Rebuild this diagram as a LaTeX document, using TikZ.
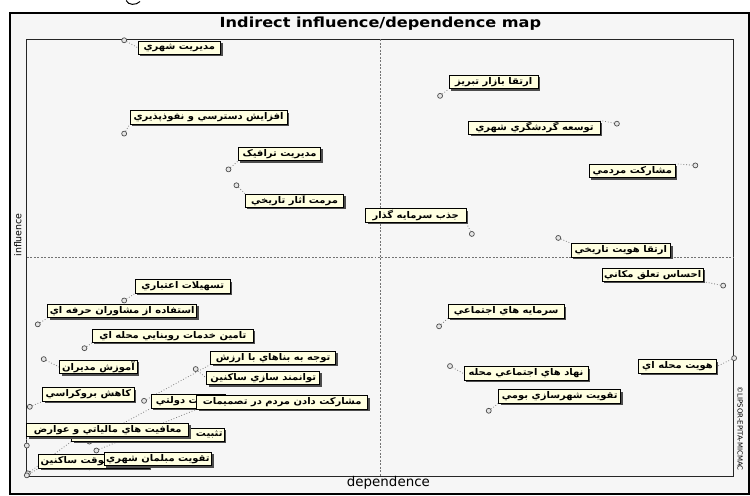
\documentclass[tikz,border=0pt]{standalone}
\usepackage{fontspec}
\usetikzlibrary{shadows}
\newfontfamily\fa[Script=Arabic, FakeStretch=1.08]{DejaVu Sans}
\newfontfamily\dvs{DejaVu Sans}
\TeXXeTstate=1
\newcommand{\rtl}[1]{\beginR #1\endR}
\definecolor{labfill}{HTML}{FFFFE1}
\definecolor{bgc}{HTML}{F6F6F6}
\pgfdeclarelayer{bottom}
\pgfdeclarelayer{background}
\pgfsetlayers{bottom,background,main}
\begin{document}
\begin{tikzpicture}[x=1pt,y=-1pt,
 lab/.style={draw=black, line width=0.8pt, fill=labfill, inner xsep=1pt, inner ysep=0pt,
   minimum height=13.5pt, font=\fa\bfseries\fontsize{9.3}{10}\selectfont,
   drop shadow={shadow xshift=2pt, shadow yshift=-2pt, fill=black!70, opacity=1}},
 mk/.style={circle, draw=black!70, fill=black!10, line width=0.7pt, inner sep=0pt, minimum size=5pt},
 lead/.style={draw=black!50, dotted, line width=0.8pt}]
\begin{pgfonlayer}{bottom}
\fill[white] (0,0) rectangle (750,492);
\draw[line width=2pt, fill=bgc] (10,13) rectangle (754,497);
\draw[line width=1pt, black!85] (27,39) rectangle (738,479);
\draw[black!55, line width=0.5pt, dash pattern=on 2pt off 1.5pt] (383,39) -- (383,479);
\draw[black!55, line width=0.5pt, dash pattern=on 2pt off 1.5pt] (27,258) -- (738,258);
\draw[line width=1pt] (127,0) .. controls (129,5) and (137,5) .. (141,1);
\end{pgfonlayer}
\node[font=\dvs\bfseries\fontsize{14}{14}\selectfont] (title) at (383,23) {\scalebox{1.16}[1]{Indirect influence/dependence map}};
\node[rotate=90, font=\dvs\fontsize{9.5}{10}\selectfont] (yl) at (18,236) {influence};
\node[font=\dvs\fontsize{13.5}{14}\selectfont] (xl) at (391,486) {dependence};
\node[rotate=-90, font=\dvs\fontsize{7}{7}\selectfont] (cp) at (745,431) {©LIPSOR-EPITA-MICMAC};
% markers
\node[mk] (m1) at (125,40) {};
\node[mk] (m2) at (125,134) {};
\node[mk] (m3) at (230,170) {};
\node[mk] (m4) at (238,186) {};
\node[mk] (m5) at (475,235) {};
\node[mk] (m6) at (443,96) {};
\node[mk] (m7) at (621,124) {};
\node[mk] (m8) at (700,166) {};
\node[mk] (m9) at (562,239) {};
\node[mk] (m10) at (728,287) {};
\node[mk] (m11) at (442,328) {};
\node[mk] (m12) at (739,360) {};
\node[mk] (m13) at (453,368) {};
\node[mk] (m14) at (492,413) {};
\node[mk] (m15) at (125,302) {};
\node[mk] (m16) at (38,326) {};
\node[mk] (m17) at (85,350) {};
\node[mk] (m18) at (44,361) {};
\node[mk] (m19) at (145,403) {};
\node[mk] (m20) at (197,371) {};
\node[mk] (m21) at (30,409) {};
\node[mk] (m22) at (90,444) {};
\node[mk] (m23) at (97,453) {};
\node[mk] (m24) at (28,476) {};
\node[mk] (m25) at (27,448) {};
\node[mk] (m26) at (90,470) {};
\node[mk] (m27) at (27,478) {};
% labels
\node[lab, minimum width=83pt] (L1) at (180.5,47.5) {\rtl{مديريت شهري}};
\node[lab, minimum width=158pt] (L2) at (210,117.5) {\rtl{افزايش دسترسي و نفوذپذيري}};
\node[lab, minimum width=83pt] (L3) at (281.5,154.5) {\rtl{مديريت ترافيک}};
\node[lab, minimum width=99pt] (L4) at (296.5,201.5) {\rtl{مرمت آثار تاريخي}};
\node[lab, minimum width=101pt] (L5) at (418.5,216.5) {\rtl{جذب سرمايه گذار}};
\node[lab, minimum width=90pt] (L6) at (497,82) {\rtl{ارتقا بازار تبريز}};
\node[lab, minimum width=132pt] (L7) at (538,128) {\rtl{توسعه گردشگري شهري}};
\node[lab, minimum width=87pt] (L8) at (636.5,171.5) {\rtl{مشارکت مردمي}};
\node[lab, minimum width=100pt] (L9) at (625,251.5) {\rtl{ارتقا هويت تاريخي}};
\node[lab, minimum width=102pt] (L10) at (657,276) {\rtl{احساس تعلق مکاني}};
\node[lab, minimum width=117pt] (L11) at (509.5,313) {\rtl{سرمايه هاي اجتماعي}};
\node[lab, minimum width=78pt] (L12) at (682,368.5) {\rtl{هويت محله اي}};
\node[lab, minimum width=125pt] (L13) at (529.5,375.5) {\rtl{نهاد هاي اجتماعي محله}};
\node[lab, minimum width=123pt] (L14) at (563.5,398.5) {\rtl{تقويت شهرسازي بومي}};
\node[lab, minimum width=96pt] (L15) at (184,288) {\rtl{تسهيلات اعتباري}};
\node[lab, minimum width=150pt] (L16) at (123,312.5) {\rtl{استفاده از مشاوران حرفه اي}};
\node[lab, minimum width=162pt] (L17) at (174,337.5) {\rtl{تامين خدمات روبنايي محله اي}};
\node[lab, minimum width=78pt] (L18) at (99,369) {\rtl{آموزش مديران}};
\node[lab, minimum width=126pt] (L19) at (275,359.5) {\rtl{توجه به بناهاي با ارزش}};
\node[lab, minimum width=114pt] (L20) at (265,380) {\rtl{توانمند سازي ساکنين}};
\node[lab, minimum width=92pt] (L21) at (89,396.5) {\rtl{کاهش بروکراسي}};
\node[lab, minimum width=75pt] (L22) at (189.5,403.5) {\rtl{حمايت دولتي}};
\node[lab, minimum width=172pt] (L23) at (284,404.5) {\rtl{مشارکت دادن مردم در تصميمات}};
\node[lab, minimum width=154pt] (L24) at (149,437) {\makebox[150pt][r]{\rtl{تثبيت}}};
\node[lab, minimum width=163pt] (L25) at (108.5,432.5) {\rtl{معافيت هاي مالياتي و عوارض}};
\node[lab, minimum width=111pt] (L27) at (94.5,464) {\makebox[107pt][l]{\rtl{موقت ساکنين}}};
\node[lab, minimum width=108pt] (L26) at (159,461.5) {\rtl{تقويت مبلمان شهري}};
% leaders
\begin{pgfonlayer}{background}
\draw[lead] (m1) -- (L1.west);
\draw[lead] (m2) -- (L2.south west);
\draw[lead] (m3) -- (L3.south west);
\draw[lead] (m4) -- (L4.north west);
\draw[lead] (m5) -- (L5.south east);
\draw[lead] (m6) -- (L6.south west);
\draw[lead] (m7) -- (L7.north east);
\draw[lead] (m8) -- (L8.north east);
\draw[lead] (m9) -- (L9.north west);
\draw[lead] (m10) -- (L10.south east);
\draw[lead] (m11) -- (L11.south west);
\draw[lead] (m12) -- (L12.east);
\draw[lead] (m13) -- (L13.west);
\draw[lead] (m14) -- (L14.south west);
\draw[lead] (m15) -- (L15.south west);
\draw[lead] (m16) -- (L16.south west);
\draw[lead] (m17) -- (L17.south west);
\draw[lead] (m18) -- (L18.west);
\draw[lead] (m19) -- (L19.south west);
\draw[lead] (m20) -- (L20.west);
\draw[lead] (m21) -- (L21.south west);
\draw[lead] (m22) -- (L22.south west);
\draw[lead] (m23) -- (L23.south west);
\draw[lead] (m24) -- (L24.south west);
\draw[lead] (m25) -- (L25.south west);
\draw[lead] (m26) -- (L26.south west);
\draw[lead] (m27) -- (L27.south west);
\end{pgfonlayer}
\end{tikzpicture}
\end{document}
